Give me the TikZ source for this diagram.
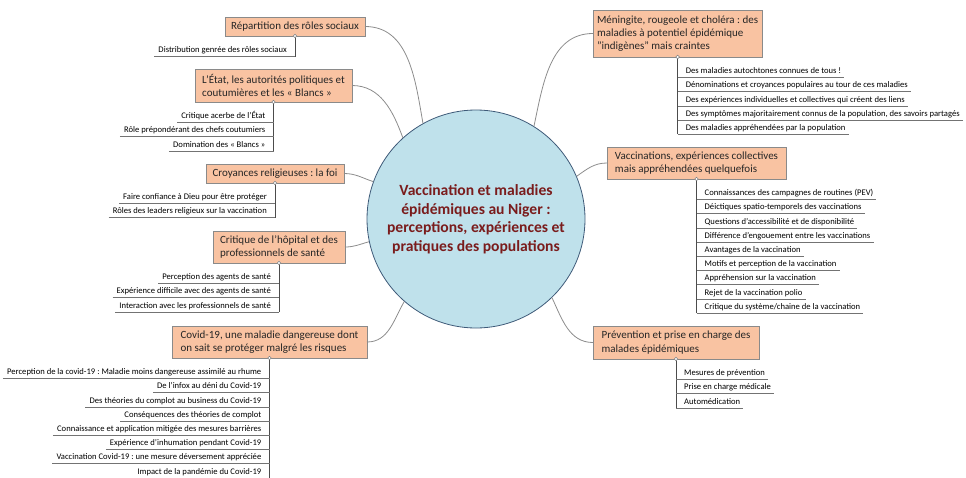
\documentclass[tikz,border=0pt]{standalone}
\usepackage{fontspec}
\setmainfont{Carlito}
\usetikzlibrary{calc}
\frenchspacing
\definecolor{topicfill}{HTML}{F9C3A2}
\definecolor{topicdraw}{HTML}{8A8A8A}
\definecolor{hubfill}{HTML}{BFE1EB}
\definecolor{hubdraw}{HTML}{3E5A78}
\definecolor{hubtext}{HTML}{7A1C1C}
\definecolor{linkcol}{HTML}{8C8C8C}
\tikzset{
  topic/.style={draw=topicdraw, fill=topicfill, line width=0.8pt, anchor=north west,
    align=left, font=\fontsize{11}{13.3}\selectfont\frenchspacing, text=black!85,
    inner xsep=4pt, inner ysep=2pt, outer sep=0pt},
  hub/.style={circle, draw=hubdraw, fill=hubfill, line width=0.8pt, minimum size=218pt,
    inner sep=0pt, align=center, text=hubtext,
    font=\fontsize{15.6}{18.5}\selectfont\bfseries\frenchspacing},
  link/.style={draw=linkcol, line width=0.8pt},
  itemL/.style={anchor=base east, inner xsep=4pt, inner ysep=0pt,
    font=\fontsize{8.6}{10}\selectfont\frenchspacing, text=black},
  itemR/.style={anchor=base west, inner xsep=3pt, inner ysep=0pt,
    font=\fontsize{8.6}{10}\selectfont\frenchspacing, text=black},
  stem/.style={draw=black!70, line width=0.7pt},
  uline/.style={draw=black!55, line width=0.6pt},
  knob/.style={circle, draw=black!50, fill=white, line width=0.5pt, minimum size=3.6pt, inner sep=0pt}
}
\begin{document}
\begin{tikzpicture}[x=1pt,y=-1pt]
\useasboundingbox (0,0) rectangle (966,477);

\node[hub] (c) at (476,219) {Vaccination et maladies\\ épidémiques au Niger :\\ perceptions, expériences et\\ pratiques des populations};

% topic boxes
\node[topic, minimum width=140pt, minimum height=19pt] (b1) at (225,17) {Répartition des rôles sociaux};
\node[topic, minimum width=157pt, minimum height=33pt] (b2) at (195,69) {L’État, les autorités politiques et\\coutumières et les « Blancs »};
\node[topic, minimum width=138pt, minimum height=19pt] (b3) at (206,164) {Croyances religieuses : la foi};
\node[topic, minimum width=132pt, minimum height=32pt] (b4) at (213,231) {Critique de l’hôpital et des\\professionnels de santé};
\node[topic, minimum width=195pt, minimum height=32pt] (b5) at (172,326) {Covid-19, une maladie dangereuse dont\\on sait se protéger malgré les risques};
\node[topic, minimum width=168pt, minimum height=47pt] (b6) at (593,10) {Méningite, rougeole et choléra : des\\maladies à potentiel épidémique\\"indigènes" mais craintes};
\node[topic, minimum width=179pt, minimum height=32pt] (b7) at (607,147) {Vaccinations, expériences collectives\\mais appréhendées quelquefois};
\node[topic, minimum width=166pt, minimum height=33pt] (b8) at (593,326) {Prévention et prise en charge des\\malades épidémiques};

% connectors to hub
\draw[link] (b1.east) to[out=0, in=100] (c.119);
\draw[link] (b2.east) to[out=0, in=110] (c.132);
\draw[link] (b3.east) to[out=0, in=162] (c.160);
\draw[link] (b4.east) to[out=0, in=195] (c.192);
\draw[link] (b5.east) to[out=0, in=240] (c.229);
\draw[link] (b6.west) to[out=180, in=78] (c.58);
\draw[link] (b7.west) to[out=180, in=35] (c.23.5);
\draw[link] (b8.west) to[out=180, in=-65] (c.-46);

% left sub-items
\foreach \b/\n/\list in {
  b1/1/{Distribution genrée des rôles sociaux},
  b2/3/{Critique acerbe de l’État,Rôle prépondérant des chefs coutumiers,Domination des « Blancs »},
  b3/2/{Faire confiance à Dieu pour être protéger,Rôles des leaders religieux sur la vaccination},
  b4/3/{Perception des agents de santé,Expérience difficile avec des agents de santé,Interaction avec les professionnels de santé},
  b5/8/{Perception de la covid-19 : Maladie moins dangereuse assimilé au rhume,De l’infox au déni du Covid-19,Des théories du complot au business du Covid-19,Conséquences des théories de complot,Connaissance et application mitigée des mesures barrières,Expérience d’inhumation pendant Covid-19,Vaccination Covid-19 : une mesure déversement appréciée,Impact de la pandémie du Covid-19}}
{
  \coordinate (\b-end) at ($(\b.south)+(0,20.5+14.2*\n-14.2)$);
  \draw[stem] (\b.south) -- (\b-end);
  \foreach \t [count=\i] in \list {
    \coordinate (\b-s\i) at ($(\b.south)+(0,20.5+14.2*\i-14.2)$);
    \node[itemL] (\b-i\i) at ($(\b-s\i)+(-4,-3.8)$) {\t};
    \draw[uline] (\b-i\i.west |- \b-s\i) -- (\b-s\i);
  }
  \node[knob] at (\b.south) {};
}

% right sub-items
\foreach \b/\n/\list in {
  b6/5/{Des maladies autochtones connues de tous !,Dénominations et croyances populaires au tour de ces maladies,Des expériences individuelles et collectives qui créent des liens,{Des symptômes majoritairement connus de la population, des savoirs partagés},Des maladies appréhendées par la population},
  b7/9/{Connaissances des campagnes de routines (PEV),Déictiques spatio-temporels des vaccinations,Questions d’accessibilité et de disponibilité,Différence d’engouement entre les vaccinations,Avantages de la vaccination,Motifs et perception de la vaccination,Appréhension sur la vaccination,Rejet de la vaccination polio,Critique du système/chaine de la vaccination},
  b8/3/{Mesures de prévention,Prise en charge médicale,Automédication}}
{
  \coordinate (\b-end) at ($(\b.south)+(0,20.5+14.2*\n-14.2)$);
  \draw[stem] (\b.south) -- (\b-end);
  \foreach \t [count=\i] in \list {
    \coordinate (\b-s\i) at ($(\b.south)+(0,20.5+14.2*\i-14.2)$);
    \node[itemR] (\b-i\i) at ($(\b-s\i)+(5,-3.8)$) {\t};
    \draw[uline] (\b-s\i) -- (\b-i\i.east |- \b-s\i);
  }
  \node[knob] at (\b.south) {};
}
\end{tikzpicture}
\end{document}
